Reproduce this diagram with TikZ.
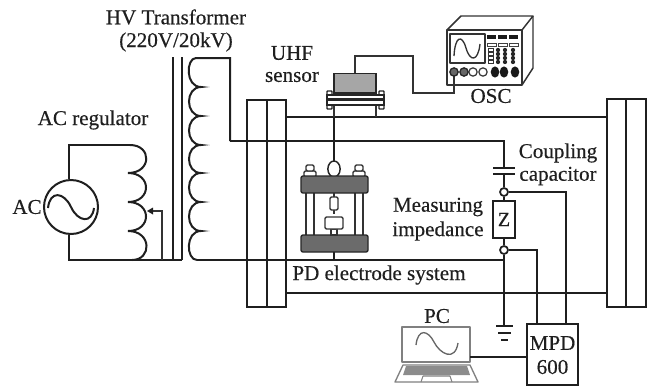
\documentclass[tikz,border=0pt]{standalone}
\usepackage{fontspec}
\setmainfont{Liberation Serif}[FakeBold=0.4]
\tikzset{
  wire/.style={draw=black!88,line width=1.5pt,line join=miter},
  thin wire/.style={draw=black!80,line width=1.1pt},
  label/.style={inner sep=0pt,text=black!88,align=center,font=\fontsize{15.8}{18}\selectfont},
  terminal/.style={circle,draw=black!88,line width=1.3pt,fill=white,inner sep=0pt,minimum size=6pt},
  plate/.style={draw=black!85,line width=1pt,fill=black!58,rounded corners=1.5pt},
  part/.style={draw=black!80,line width=1pt,fill=white,rounded corners=1pt},
  osc line/.style={draw=black!80,line width=1.1pt,line join=round},
  lap line/.style={draw=black!50,line width=1pt,line join=round},
}
\begin{document}
\begin{tikzpicture}[x=0.75pt,y=-0.75pt]
\useasboundingbox (0,0) rectangle (652,386);
% ---- coordinates
\coordinate (srcTop) at (69,145);
\coordinate (srcBot) at (69,260);
\coordinate (regTop) at (130,145);
\coordinate (tapE) at (162,260);
\coordinate (tapC) at (162,211);
\coordinate (tapT) at (147,211);
\coordinate (coreR) at (182,260);
\coordinate (secTop) at (196,58);
\coordinate (secC) at (230,58);
\coordinate (secD) at (230,141);
\coordinate (capW) at (504,141);
\coordinate (capA) at (504,168);
\coordinate (capB) at (504,173.5);
\coordinate (secBot) at (197,260);
\coordinate (junc) at (504,260);
\coordinate (gndT) at (504,326);
% ---- AC source
\node[circle,draw=black!88,line width=1.5pt,minimum size=40.5pt,inner sep=0pt] (src) at (71,207) {};
\draw[wire] (src.north -| srcTop) -- (srcTop) -- (regTop);
\draw[wire] (src.south -| srcBot) -- (srcBot) -- (coreR);
\draw[wire] (48,208) .. controls (50,190) and (64,192) .. (71,207) .. controls (78,222) and (92,224) .. (94,208);
% ---- regulator coil
\draw[wire] (regTop) .. controls (152,145) and (152,173) .. (128,173)
  .. controls (152,173) and (152,202) .. (128,202)
  .. controls (152,202) and (152,231) .. (128,231)
  .. controls (152,231) and (152,260) .. (132,260);
\draw[thin wire] (tapE) -- (tapC) -- (152,211);
\fill[black!88] (tapT) -- (153,207.5) -- (153,214.5) -- cycle;
% ---- transformer core and secondary
\draw[wire] (172.5,57) -- (172.5,260);
\draw[wire] (182,57) -- (coreR);
\draw[wire] (secD) -- (secC) -- (secTop) .. controls (186,58) and (185,87) .. (201,87)
  .. controls (185,87) and (185,116) .. (201,116)
  .. controls (185,116) and (185,145) .. (201,145)
  .. controls (185,145) and (185,173) .. (201,173)
  .. controls (185,173) and (185,202) .. (201,202)
  .. controls (185,202) and (185,231) .. (201,231)
  .. controls (185,231) and (186,260) .. (secBot);
\draw[wire] (secD) -- (capW) -- (capA);
\draw[wire] (secBot) -- (junc);
% ---- frames
\draw[wire] (247,100) rectangle (286,307);
\draw[wire] (266.5,100) -- (266.5,307);
\draw[wire] (607,99) rectangle (645.5,307);
\draw[wire] (626,99) -- (626,307);
\draw[wire] (286,117) -- (607,117);
\draw[wire] (286,293) -- (607,293);
% ---- capacitor, impedance
\draw[wire] (493,168) -- (515,168);
\draw[wire] (493,173.5) -- (515,173.5);
\node[terminal] (t1) at (504,192) {};
\node[terminal] (t2) at (504,250) {};
\node[draw=black!88,line width=1.5pt,fill=white,minimum width=16.5pt,minimum height=27.5pt,inner sep=0pt,text=black!88,font=\fontsize{15}{18}\selectfont] (zbox) at (504,219.5) {Z};
\node[draw=black!88,line width=1.5pt,minimum width=38pt,minimum height=45.5pt,inner sep=0pt] (mpd) at (552.5,354.5) {};
\draw[wire] (capB) -- (t1);
\draw[wire] (t1) -- (zbox);
\draw[wire] (zbox) -- (t2);
\draw[wire] (t2) -- (gndT);
\draw[wire] (t1) -- (566,192) -- (566,324);
\draw[wire] (t2) -- (536.5,250) -- (536.5,324);
% ---- ground
\draw[wire] (496,326) -- (513,326);
\draw[wire] (498,333) -- (511,333);
\draw[wire] (501,339.5) -- (508,339.5);
% ---- UHF sensor
\draw[thin wire] (334,104) -- (334,117) (376,104) -- (376,117);
\draw[draw=black!85,line width=1.1pt,fill=black!35] (334,73.5) rectangle (376,93);
\draw[draw=black!85,line width=1pt,fill=white,rounded corners=.5pt] (327,91) rectangle (332,109);
\draw[draw=black!85,line width=1pt,fill=white,rounded corners=.5pt] (379,91) rectangle (384,109);
\draw[draw=black!85,line width=1pt,fill=white] (327,95) rectangle (384,105);
\fill[black!85] (327,97.5) rectangle (384,101);
\draw[thin wire] (355,73) -- (355,56) -- (413,56) -- (413,93) -- (454,93) -- (454,74);
% ---- oscilloscope
\draw[osc line] (447,30) -- (461,16) -- (533,16) -- (522,30);
\draw[osc line] (533,16) -- (533,68) -- (522,85);
\draw[osc line] (447,30) rectangle (522,85);
\draw[osc line] (450,34) rectangle (485,63);
\draw[black!80,line width=1pt] (454,56) .. controls (455,36) and (462,34) .. (466,48) .. controls (470,62) and (478,62) .. (480,44);
\foreach \x in {487,498,509}{\fill[black!90] (\x,35) rectangle ++(9,3.6);\draw[black!75,line width=.7pt] (\x,43) rectangle ++(9,3);}
\foreach \x in {498,505,513}\foreach \y in {50,54,58,62}{\fill[black!85] (\x,\y) circle[radius=1.6pt];}
\foreach \y in {50,54,58,62}{\draw[black!80,line width=.7pt] (488,\y-1.5) rectangle ++(5,3);}
\foreach \x in {454,464}{\draw[black!85,line width=1pt,fill=black!60] (\x,72) circle[radius=3.1pt];}
\foreach \x in {473,483}{\draw[black!80,line width=.9pt] (\x,72) circle[radius=3.1pt];}
\foreach \x in {495,504,515}{\fill[black!90] (\x,72) ellipse[x radius=3.2pt,y radius=4.2pt];}
% ---- PD electrode cell
\draw[wire] (334,117) -- (334,161);
\draw[wire] (333.5,252) -- (333.5,260);
\foreach \x in {306,314,355,363}{\draw[thin wire] (\x,193) -- (\x,235);}
\draw[part,line width=1pt] (304,171) rectangle (316,177);
\draw[part,line width=1pt] (306,165) rectangle (314,171);
\draw[part,line width=1pt] (353,171) rectangle (365,177);
\draw[part,line width=1pt] (355,165) rectangle (363,171);
\draw[draw=black!85,line width=1.1pt,fill=white] (334,169) ellipse[x radius=4.6pt,y radius=6pt];
\draw[plate] (301,176) rectangle (368,193);
\draw[plate] (301,235) rectangle (368,252);
\draw[draw=black!80,line width=1pt] (334,193) -- (334,197) (334,210) -- (334,214);
\draw[part] (330,197) rectangle (338,210);
\draw[draw=black!80,line width=1pt,fill=white] (331,229) rectangle (337,235);
\draw[part] (325,217) rectangle (343,229);
% ---- laptop
\draw[lap line,line width=1.2pt] (402,327) rectangle (470,362);
\draw[lap line] (403,365) -- (395,382) -- (478,382) -- (470,365) -- cycle;
\fill[black!45] (406,366) -- (467,366) -- (470,375) -- (403,375) -- cycle;
\draw[lap line,line width=.8pt] (423,376) -- (421,382) (450,376) -- (452,382) (423,376) -- (450,376);
\draw[black!60,line width=1pt] (416,345) .. controls (418,328) and (428,330) .. (434,342) .. controls (440,354) and (455,362) .. (458,343);
\coordinate (lapR) at (470,357);
\draw[wire] (lapR) -- (lapR -| mpd.west);
% ---- labels
\node[label] (lHV) at (176,17) {HV Transformer};
\node[label] (lV) at (176,42) {(220V/20kV)};
\node[label] (lReg) at (93,120) {AC regulator};
\node[label] (lAC) at (27,207) {AC};
\node[label] (lUHF) at (292,53) {UHF};
\node[label] (lSen) at (292,77) {sensor};
\node[label] (lOSC) at (491,96) {OSC};
\node[label] (lCo) at (558,153) {Coupling};
\node[label] (lCa) at (558,176) {capacitor};
\node[label] (lMe) at (438,207) {Measuring};
\node[label] (lIm) at (438,231) {impedance};
\node[label] (lPD) at (379,275) {PD electrode system};
\node[label] (lPC) at (437,316) {PC};
\node[label] (lM) at (552.5,343) {MPD};
\node[label] (l6) at (552.5,367) {600};
\end{tikzpicture}
\end{document}
